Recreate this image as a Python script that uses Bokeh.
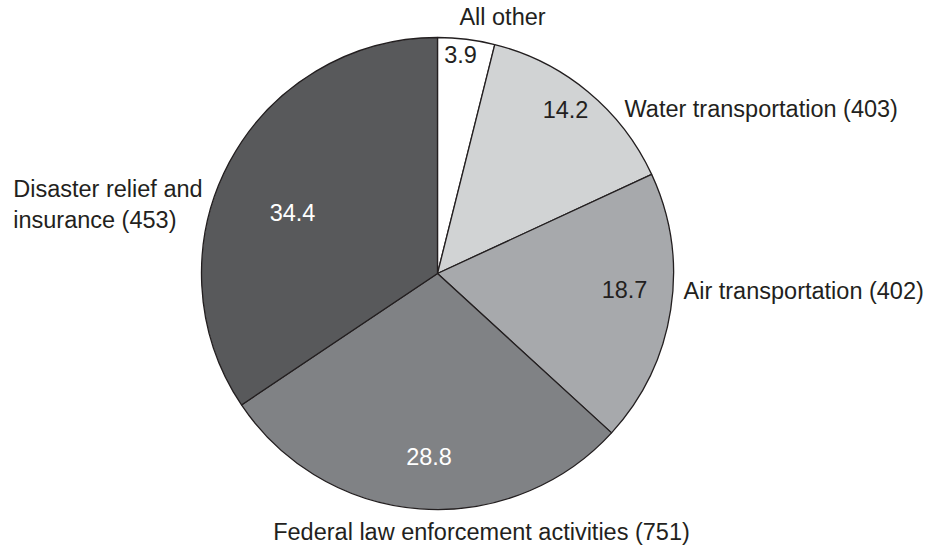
import math
from bokeh.plotting import figure
from bokeh.models import ColumnDataSource, Range1d
from bokeh.core.properties import value
from bokeh.embed import file_html
from bokeh.resources import INLINE

# ---- data ----
categories = ["All other", "Water transportation (403)", "Air transportation (402)",
              "Federal law enforcement activities (751)", "Disaster relief and\ninsurance (453)"]
shares = [3.9, 14.2, 18.7, 28.8, 34.4]
value_labels = ["3.9", "14.2", "18.7", "28.8", "34.4"]

# ---- styles ----
fills = ["#ffffff", "#d1d3d4", "#a7a9ac", "#808285", "#58595b"]
value_colors = ["#231f20", "#231f20", "#231f20", "#ffffff", "#ffffff"]
# label offsets from pie centre (pixels)
value_off = [(23, 219.5), (128, 164.5), (187, -16), (-8.5, -183), (-145, 61.5)]
cat_off = [(65, 256.5), (187, 164.5), (246, -17.5), (44, -258), (-424.3, 69)]
cat_align = ["center", "left", "left", "center", "left"]

W, H = 949, 546
cx, cy, R = 437, H - 273, 236
FONT = "Liberation Sans"
FS = "23.5px"

total = sum(shares)
starts, ends = [], []
cum = 0.0
for s in shares:
    a0 = math.pi / 2 - 2 * math.pi * cum / total
    cum += s
    a1 = math.pi / 2 - 2 * math.pi * cum / total
    starts.append(a1)
    ends.append(a0)

p = figure(width=W, height=H, x_range=Range1d(0, W), y_range=Range1d(0, H),
           output_backend="svg", toolbar_location=None, min_border=0)
p.axis.visible = False
p.grid.visible = False
p.outline_line_color = None
p.background_fill_color = "white"

src = ColumnDataSource(dict(x=[cx] * len(shares), y=[cy] * len(shares),
                            start=starts, end=ends, fill=fills))
p.wedge(x="x", y="y", radius=R, start_angle="start", end_angle="end",
        fill_color="fill", line_color="#231f20", line_width=1.3, source=src)

vsrc = ColumnDataSource(dict(x=[cx + o[0] for o in value_off],
                             y=[cy + o[1] for o in value_off],
                             t=value_labels, c=value_colors))
p.text(x="x", y="y", text="t", text_color="c", source=vsrc,
       text_font=value(FONT), text_font_size=value(FS),
       text_align="center", text_baseline="middle")

csrc = ColumnDataSource(dict(x=[cx + o[0] for o in cat_off],
                             y=[cy + o[1] for o in cat_off],
                             t=categories, a=cat_align))
p.text(x="x", y="y", text="t", text_align="a", source=csrc,
       text_color="#231f20", text_font=value(FONT), text_font_size=value(FS),
       text_baseline="middle", text_line_height=1.2)

open("out.html", "w").write(file_html(p, INLINE))
